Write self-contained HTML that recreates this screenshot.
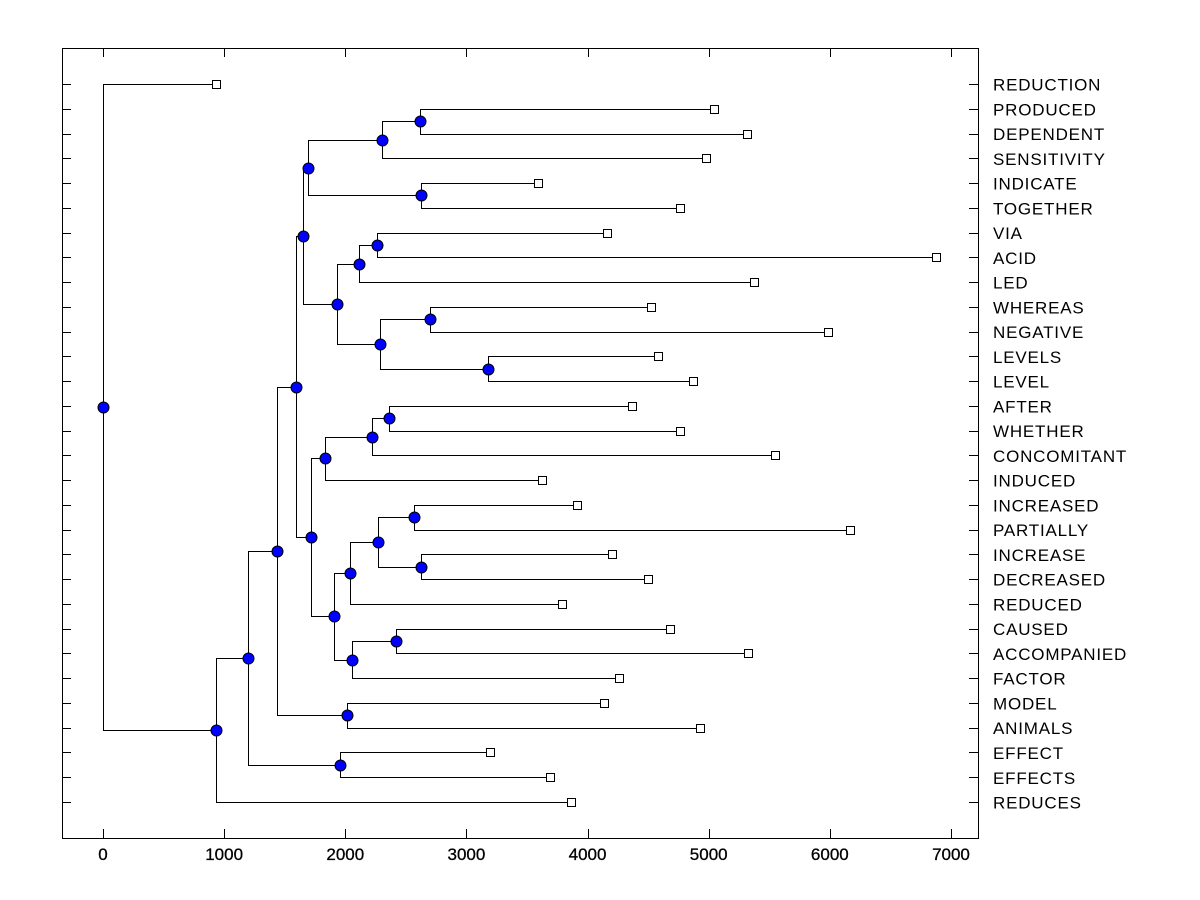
<!DOCTYPE html>
<html><head><meta charset="utf-8"><style>
html,body{margin:0;padding:0;background:#fff;}
svg{display:block;font-family:"Liberation Sans",Arial,sans-serif;}
</style></head><body>
<svg id="chart" width="1200" height="900"></svg>
<script>
const leafNames=["REDUCTION","PRODUCED","DEPENDENT","SENSITIVITY","INDICATE","TOGETHER","VIA","ACID","LED","WHEREAS","NEGATIVE","LEVELS","LEVEL","AFTER","WHETHER","CONCOMITANT","INDUCED","INCREASED","PARTIALLY","INCREASE","DECREASED","REDUCED","CAUSED","ACCOMPANIED","FACTOR","MODEL","ANIMALS","EFFECT","EFFECTS","REDUCES"];
const leafValues=[934,5041,5314,4975,3587,4760,4157,6876,5372,4521,5983,4579,4868,4364,4760,5545,3620,3909,6165,4198,4496,3785,4678,5322,4256,4132,4926,3198,3694,3860];
const mergeLeft=[1,30,4,31,6,34,9,11,36,35,33,13,41,42,17,19,44,46,22,48,47,43,40,25,52,27,54,56,0];
const mergeRight=[2,3,5,32,7,8,10,12,37,38,39,14,15,16,18,20,45,21,23,24,49,50,51,26,53,28,55,29,57];
const mergeHeight=[2620,2306,2628,1694,2264,2116,2702,3182,2289,1934,1653,2364,2223,1835,2570,2628,2273,2041,2421,2058,1909,1719,1595,2017,1438,1959,1198,934,0];
const xTicks=[0,1000,2000,3000,4000,5000,6000,7000];

const NS="http://www.w3.org/2000/svg";
const svg=document.getElementById("chart");
const L=62,R=978,T=48,B=838;
function sx(v){return 103+v*0.12114;}
function sy(i){return 84+i*24.759;}
function mk(tag,attrs,parent){const e=document.createElementNS(NS,tag);for(const k in attrs)e.setAttribute(k,attrs[k]);(parent||svg).appendChild(e);return e;}

const frame=mk("rect",{x:L+0.5,y:T+0.5,width:R-L,height:B-T,fill:"none",stroke:"#000","stroke-width":1});



const n=leafNames.length;
const px=[],py=[];
for(let i=0;i<n;i++){px.push(sx(leafValues[i]));py.push(sy(i));}
for(let k=0;k<mergeHeight.length;k++){const a=mergeLeft[k],b=mergeRight[k];px.push(sx(mergeHeight[k]));py.push((py[a]+py[b])/2);}

for(let i=0;i<n;i++){
  const y=Math.round(sy(i))+0.5;
  const t1=mk("line",{x1:L,y1:y,x2:L+9,y2:y,stroke:"#000"});
  
  
  const t2=mk("line",{x1:R-9,y1:y,x2:R,y2:y,stroke:"#000"});
  
  
  const lab=mk("text",{x:993,y:sy(i)+6.5,"font-size":17,"letter-spacing":0.8,fill:"#000"});
  lab.textContent=leafNames[i];
  
  
}
xTicks.forEach(v=>{
  const x=Math.round(sx(v))+0.5;
  const t=mk("line",{x1:x,y1:B-9,x2:x,y2:B,stroke:"#000"});
  
  
  const t2=mk("line",{x1:x,y1:T,x2:x,y2:T+9,stroke:"#000"});
  
  
  const lab=mk("text",{x:sx(v),y:860,"font-size":17,"text-anchor":"middle",fill:"#000","stroke":"#000","stroke-width":0.3});
  lab.textContent=v;
  
  
});

for(let k=0;k<mergeHeight.length;k++){
  const id=n+k,a=mergeLeft[k],b=mergeRight[k];
  const x=Math.round(px[id])+0.5;
  const d="M"+(Math.round(px[a])+0.5)+","+(Math.round(py[a])+0.5)+"H"+x+"V"+(Math.round(py[b])+0.5)+"H"+(Math.round(px[b])+0.5);
  const p=mk("path",{d:d,fill:"none",stroke:"#000","stroke-width":1});
  
  
}
for(let i=0;i<n;i++){
  const r=mk("rect",{x:Math.round(px[i])-3.5,y:Math.round(py[i])-3.5,width:8,height:8,fill:"#fff",stroke:"#000"});
  
  
}
for(let k=0;k<mergeHeight.length;k++){
  const id=n+k;
  const c=mk("circle",{cx:Math.round(px[id])+0.5,cy:Math.round(py[id])+0.5,r:5.5,fill:"#0000ff",stroke:"#000","stroke-width":1});
  
  
}
</script>
</body></html>
